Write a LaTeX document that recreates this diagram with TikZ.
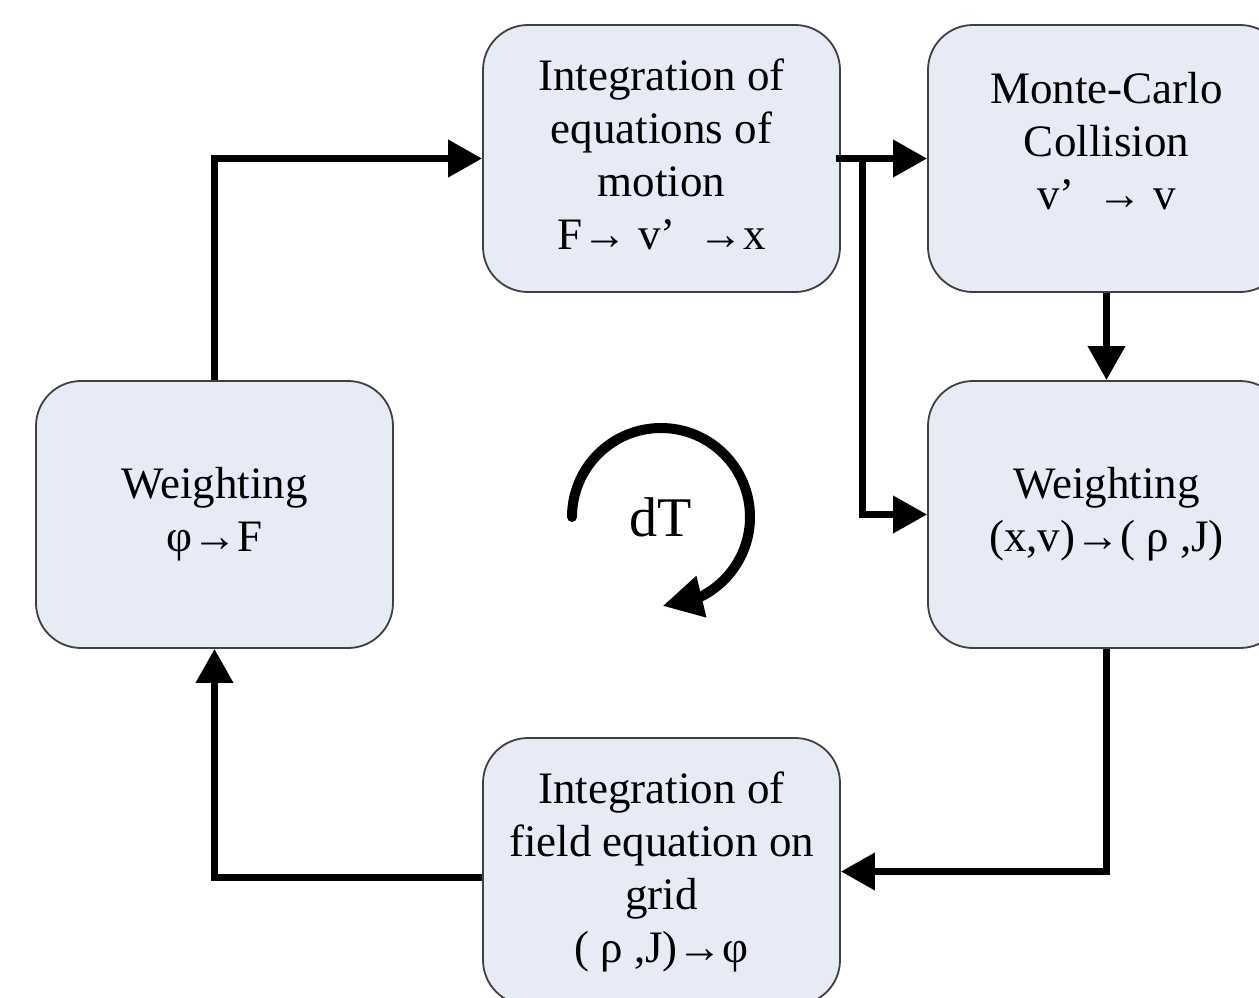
\documentclass[tikz,border=0pt]{standalone}
\usepackage{fontspec}
\setmainfont{Liberation Serif}
\usetikzlibrary{arrows.meta,bending}
\definecolor{boxfill}{HTML}{E6EBF6}
\definecolor{boxline}{HTML}{404040}
\begin{document}
\begin{tikzpicture}[x=1pt,y=-1pt,
  box/.style={draw=boxline, line width=1.8pt, fill=boxfill, rounded corners=45pt,
    minimum width=357pt, minimum height=267pt, inner sep=0pt, align=center,
    font=\fontsize{45}{53}\selectfont},
  boxtext/.style={inner sep=0pt, align=center, font=\fontsize{45}{53}\selectfont},
  conn/.style={line width=7pt, line join=miter, -{Triangle[length=34pt,width=36pt]}}]
\clip (0,0) rectangle (1259,998);
\fill[white] (0,0) rectangle (1259,998);
\node[box] (motion) at (661.5,158.5) {};
\node[boxtext] (motiont) at ([yshift=4pt]motion.center) {Integration of\\equations of\\motion\\F→ v’~~→x};
\node[box] (mcc) at (1106.5,158.5) {};
\node[boxtext] (mcct) at ([yshift=17pt]mcc.center) {Monte-Carlo\\Collision\\v’~~→ v};
\node[box] (wr) at (1106.5,514.5) {Weighting\\(x,v)→( ρ ,J)};
\node[box] (wl) at (214.5,514.5) {Weighting\\φ→F};
\node[box] (field) at (661.5,871.5) {Integration of\\field equation on\\grid\\( ρ ,J)→φ};
\coordinate (br) at (862,158.5);
\coordinate (dc) at (661,517);
\draw[conn] (wl.north) |- (motion.west);
\draw[conn] ([xshift=-5pt]motion.east) -- (mcc.west);
\draw[conn] (br) |- (wr.west);
\draw[conn] (mcc.south) -- (wr.north);
\draw[conn] (wr.south) |- (field.east);
\draw[conn] ([yshift=-6pt]field.west) -| (wl.south);
\node[font=\fontsize{56}{60}\selectfont] (dT) at (dc) {dT};
\draw[line width=10pt, line cap=round, -{Triangle[length=40pt,width=40pt,flex]}]
  ([shift={(180:89pt)}]dc) arc[start angle=180, end angle=-89, radius=89pt];
\end{tikzpicture}
\end{document}
